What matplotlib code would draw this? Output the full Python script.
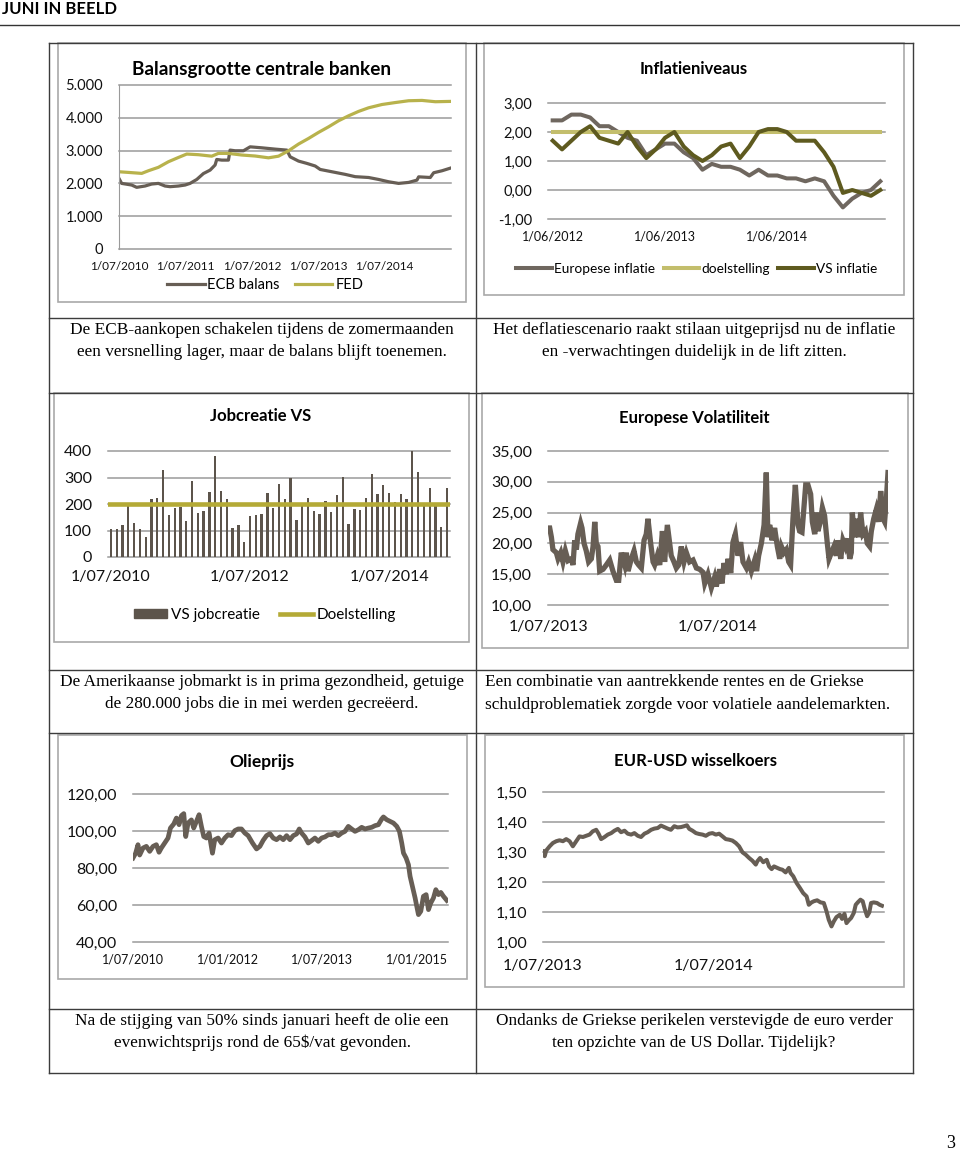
import numpy as np
import matplotlib
matplotlib.use('Agg')
import matplotlib.pyplot as plt
from matplotlib.lines import Line2D
from matplotlib.patches import Rectangle, Patch

plt.rcParams['font.family'] = ['Lato', 'DejaVu Sans']

W, H = 960, 1152
SERIF = ['Liberation Serif', 'DejaVu Serif']

# ---------------- data ----------------
# Balansgrootte centrale banken (miljard), time in decimal years
fed_t = [2010.500, 2010.641, 2010.842, 2010.942, 2011.093, 2011.244, 2011.394, 2011.520,
         2011.696, 2011.897, 2011.997, 2012.148, 2012.349, 2012.550, 2012.751, 2012.902,
         2013.053, 2013.204, 2013.354, 2013.505, 2013.656, 2013.807, 2013.957, 2014.108,
         2014.259, 2014.460, 2014.661, 2014.862, 2015.063, 2015.264, 2015.490]
fed_v = [2355, 2335, 2305, 2385, 2490, 2660, 2790, 2895,
         2875, 2830, 2915, 2915, 2865, 2835, 2780, 2830,
         2995, 3200, 3370, 3555, 3725, 3910, 4060, 4195,
         4305, 4405, 4465, 4520, 4530, 4490, 4500]
ecb_t = [2010.500, 2010.540, 2010.691, 2010.766, 2010.892, 2010.992, 2011.093, 2011.193,
         2011.269, 2011.394, 2011.495, 2011.570, 2011.671, 2011.771, 2011.872, 2011.947,
         2011.972, 2012.048, 2012.148, 2012.173, 2012.249, 2012.374, 2012.475, 2012.651,
         2012.852, 2013.028, 2013.078, 2013.204, 2013.329, 2013.455, 2013.530, 2013.706,
         2013.907, 2014.058, 2014.259, 2014.410, 2014.560, 2014.711, 2014.862, 2014.987,
         2015.013, 2015.188, 2015.239, 2015.364, 2015.490]
ecb_v = [2150, 2000, 1950, 1880, 1920, 1980, 2000, 1920,
         1900, 1920, 1950, 2000, 2120, 2300, 2405, 2560,
         2730, 2710, 2710, 3015, 2995, 2995, 3115, 3085,
         3045, 3015, 2810, 2680, 2610, 2530, 2425, 2355,
         2275, 2205, 2180, 2120, 2050, 2000, 2030, 2100,
         2200, 2180, 2325, 2385, 2465]

# Inflatieniveaus, maandelijks vanaf juni 2012
infl_eu = [2.4, 2.4, 2.6, 2.6, 2.5, 2.2, 2.2, 2.0, 1.8, 1.7, 1.2, 1.4,
           1.6, 1.6, 1.3, 1.1, 0.7, 0.9, 0.8, 0.8, 0.7, 0.5, 0.7, 0.5,
           0.5, 0.4, 0.4, 0.3, 0.4, 0.3, -0.2, -0.6, -0.3, -0.1, 0.0, 0.3]
infl_vs = [1.7, 1.4, 1.7, 2.0, 2.2, 1.8, 1.7, 1.6, 2.0, 1.5, 1.1, 1.4,
           1.8, 2.0, 1.5, 1.2, 1.0, 1.2, 1.5, 1.6, 1.1, 1.5, 2.0, 2.1,
           2.1, 2.0, 1.7, 1.7, 1.7, 1.3, 0.8, -0.1, 0.0, -0.1, -0.2, 0.0]
infl_doel = 2.0
infl_ticks = ['1/06/2012', '1/06/2013', '1/06/2014']

# Jobcreatie VS (duizend), maandelijks vanaf juli 2010
jobs = [104, 107, 122, 196, 130, 107, 76, 217, 224, 330,
        159, 185, 189, 136, 286, 165, 174, 246, 381, 248,
        217, 108, 122, 55, 154, 159, 164, 240, 185, 275,
        219, 299, 140, 194, 224, 172, 161, 213, 169, 235,
        302, 124, 183, 176, 223, 313, 238, 270, 243, 208,
        236, 218, 401, 320, 195, 261, 192, 115, 260]
jobs_doel = 200
jobs_ticks = ['1/07/2010', '1/07/2012', '1/07/2014']

# Europese Volatiliteit
vol_t = [2013.500, 2013.510, 2013.520, 2013.529, 2013.549, 2013.559, 2013.575, 2013.588,
         2013.602, 2013.618, 2013.637, 2013.647, 2013.657, 2013.667, 2013.676, 2013.692,
         2013.700, 2013.712, 2013.725, 2013.739, 2013.755, 2013.765, 2013.775, 2013.784,
         2013.794, 2013.804, 2013.824, 2013.843, 2013.863, 2013.882, 2013.902, 2013.916,
         2013.931, 2013.951, 2013.961, 2013.971, 2013.990, 2014.006, 2014.020, 2014.033,
         2014.049, 2014.065, 2014.078, 2014.088, 2014.104, 2014.118, 2014.127, 2014.143,
         2014.157, 2014.173, 2014.186, 2014.202, 2014.216, 2014.225, 2014.241, 2014.255,
         2014.269, 2014.284, 2014.300, 2014.314, 2014.333, 2014.353, 2014.373, 2014.392,
         2014.412, 2014.422, 2014.441, 2014.461, 2014.480, 2014.490, 2014.510, 2014.524,
         2014.535, 2014.549, 2014.559, 2014.575, 2014.588, 2014.602, 2014.618, 2014.633,
         2014.647, 2014.667, 2014.680, 2014.696, 2014.716, 2014.727, 2014.739, 2014.755,
         2014.771, 2014.784, 2014.794, 2014.804, 2014.818, 2014.833, 2014.849, 2014.863,
         2014.873, 2014.888, 2014.902, 2014.916, 2014.927, 2014.941, 2014.955, 2014.971,
         2014.980, 2014.994, 2015.006, 2015.016, 2015.029, 2015.045, 2015.055, 2015.069,
         2015.078, 2015.088, 2015.102, 2015.114, 2015.127, 2015.143, 2015.153, 2015.167,
         2015.182, 2015.196, 2015.206, 2015.222, 2015.235, 2015.249, 2015.261, 2015.275,
         2015.284, 2015.290, 2015.304, 2015.320, 2015.329, 2015.339, 2015.353, 2015.367,
         2015.378, 2015.392, 2015.402, 2015.416, 2015.431, 2015.445, 2015.457, 2015.471,
         2015.480, 2015.490, 2015.500]
vol_v = [22.5, 22.5, 21.0, 19.0, 18.5, 17.5, 18.5, 17.0,
         18.8, 17.2, 17.5, 16.5, 20.5, 19.0, 21.5, 23.3,
         22.5, 20.0, 18.8, 17.0, 17.5, 19.5, 23.5, 20.0,
         19.5, 15.5, 15.8, 16.5, 17.3, 15.5, 14.0, 14.0,
         18.5, 16.5, 18.5, 15.5, 17.5, 18.8, 17.0, 16.5,
         16.0, 20.5, 21.5, 24.0, 20.0, 17.0, 16.5, 18.0,
         16.5, 22.0, 17.0, 23.0, 20.0, 18.0, 17.0, 16.0,
         16.5, 19.5, 17.0, 18.5, 17.0, 17.3, 16.0, 15.8,
         15.3, 13.5, 15.0, 12.8, 14.5, 13.0, 15.8, 13.5,
         16.8, 15.0, 17.5, 15.2, 20.2, 21.5, 18.0, 20.2,
         17.0, 16.0, 17.0, 15.5, 17.3, 15.5, 18.0, 20.0,
         23.0, 31.5, 21.0, 23.0, 20.5, 22.5, 19.5, 17.5,
         19.5, 18.5, 19.0, 17.0, 16.5, 24.0, 29.5, 23.0,
         22.0, 21.8, 26.0, 29.5, 29.5, 28.0, 23.5, 21.5,
         25.0, 22.0, 23.5, 25.8, 24.5, 20.0, 17.5, 18.5,
         19.5, 18.0, 20.5, 17.5, 20.5, 19.5, 20.8, 17.5,
         18.5, 25.0, 21.0, 24.0, 21.0, 25.0, 21.5, 22.0,
         20.0, 19.5, 22.0, 24.0, 25.5, 23.5, 28.5, 24.0,
         23.5, 27.0, 31.5]

# Olieprijs
oil_t = [2010.500, 2010.542, 2010.579, 2010.606, 2010.659, 2010.712, 2010.765, 2010.818,
         2010.871, 2010.913, 2010.950, 2011.003, 2011.056, 2011.094, 2011.147, 2011.189,
         2011.231, 2011.268, 2011.306, 2011.337, 2011.374, 2011.427, 2011.464, 2011.507,
         2011.549, 2011.586, 2011.623, 2011.666, 2011.708, 2011.761, 2011.798, 2011.851,
         2011.904, 2011.957, 2012.010, 2012.063, 2012.116, 2012.169, 2012.222, 2012.275,
         2012.328, 2012.397, 2012.461, 2012.514, 2012.567, 2012.620, 2012.673, 2012.726,
         2012.779, 2012.832, 2012.885, 2012.938, 2012.991, 2013.044, 2013.097, 2013.139,
         2013.176, 2013.229, 2013.282, 2013.335, 2013.388, 2013.441, 2013.494, 2013.547,
         2013.600, 2013.653, 2013.706, 2013.759, 2013.812, 2013.865, 2013.918, 2013.971,
         2014.024, 2014.077, 2014.130, 2014.183, 2014.236, 2014.289, 2014.342, 2014.395,
         2014.448, 2014.475, 2014.528, 2014.581, 2014.634, 2014.687, 2014.729, 2014.766,
         2014.793, 2014.835, 2014.872, 2014.898, 2014.941, 2014.978, 2015.004, 2015.031,
         2015.068, 2015.110, 2015.153, 2015.190, 2015.227, 2015.269, 2015.307, 2015.349,
         2015.386, 2015.428, 2015.481]
oil_v = [85.4, 88.0, 92.6, 87.0, 90.8, 91.7, 89.0, 91.7,
         92.6, 88.5, 90.8, 93.5, 96.2, 101.6, 103.8, 107.0,
         103.4, 108.3, 109.4, 97.0, 104.3, 106.0, 101.6, 105.2,
         108.8, 102.5, 97.0, 96.2, 98.9, 88.0, 95.3, 96.2,
         93.5, 96.2, 98.0, 97.5, 100.2, 101.1, 101.1, 98.9,
         97.5, 93.5, 90.3, 91.7, 95.0, 97.5, 98.6, 96.2,
         95.3, 96.8, 95.3, 97.5, 95.3, 97.5, 98.4, 101.1,
         98.9, 96.8, 93.5, 94.8, 96.2, 94.4, 96.2, 96.8,
         98.0, 98.0, 98.9, 97.5, 98.9, 99.8, 102.5, 101.1,
         99.8, 100.7, 102.0, 101.1, 101.6, 102.0, 102.9, 103.4,
         106.5, 107.6, 106.1, 105.2, 104.3, 102.5, 99.8, 93.5,
         88.1, 85.4, 81.8, 75.5, 69.2, 63.8, 59.3, 54.8,
         56.6, 64.7, 65.6, 57.5, 61.1, 63.8, 68.3, 65.6,
         66.8, 64.7, 62.5]

# EUR-USD wisselkoers
fx_t = [2013.500, 2013.510, 2013.519, 2013.539, 2013.558, 2013.578, 2013.597, 2013.617,
        2013.636, 2013.656, 2013.675, 2013.695, 2013.714, 2013.734, 2013.753, 2013.773,
        2013.792, 2013.812, 2013.826, 2013.841, 2013.861, 2013.880, 2013.900, 2013.919,
        2013.939, 2013.958, 2013.978, 2013.997, 2014.017, 2014.036, 2014.056, 2014.075,
        2014.095, 2014.114, 2014.134, 2014.153, 2014.173, 2014.192, 2014.212, 2014.231,
        2014.250, 2014.270, 2014.289, 2014.309, 2014.328, 2014.344, 2014.358, 2014.377,
        2014.397, 2014.416, 2014.436, 2014.455, 2014.475, 2014.494, 2014.514, 2014.533,
        2014.553, 2014.572, 2014.592, 2014.611, 2014.631, 2014.650, 2014.670, 2014.689,
        2014.709, 2014.728, 2014.748, 2014.757, 2014.773, 2014.792, 2014.812, 2014.826,
        2014.841, 2014.855, 2014.874, 2014.890, 2014.904, 2014.923, 2014.942, 2014.952,
        2014.968, 2014.987, 2015.007, 2015.026, 2015.046, 2015.059, 2015.075, 2015.089,
        2015.108, 2015.128, 2015.147, 2015.163, 2015.176, 2015.192, 2015.206, 2015.221,
        2015.241, 2015.254, 2015.268, 2015.280, 2015.293, 2015.307, 2015.323, 2015.334,
        2015.346, 2015.362, 2015.375, 2015.387, 2015.401, 2015.414, 2015.424, 2015.440,
        2015.459, 2015.475, 2015.488]
fx_v = [1.302, 1.286, 1.305, 1.319, 1.330, 1.336, 1.339, 1.336,
        1.343, 1.336, 1.319, 1.336, 1.352, 1.350, 1.354, 1.358,
        1.369, 1.374, 1.361, 1.343, 1.350, 1.358, 1.363, 1.371,
        1.377, 1.366, 1.371, 1.361, 1.358, 1.363, 1.354, 1.350,
        1.361, 1.366, 1.374, 1.378, 1.380, 1.388, 1.383, 1.378,
        1.374, 1.386, 1.382, 1.383, 1.386, 1.389, 1.377, 1.371,
        1.363, 1.360, 1.358, 1.354, 1.361, 1.363, 1.358, 1.361,
        1.352, 1.343, 1.341, 1.338, 1.330, 1.319, 1.299, 1.291,
        1.280, 1.271, 1.258, 1.269, 1.280, 1.266, 1.274, 1.252,
        1.243, 1.252, 1.247, 1.243, 1.241, 1.232, 1.247, 1.230,
        1.219, 1.197, 1.180, 1.163, 1.152, 1.124, 1.132, 1.136,
        1.139, 1.132, 1.130, 1.102, 1.074, 1.052, 1.069, 1.083,
        1.091, 1.077, 1.094, 1.063, 1.072, 1.080, 1.097, 1.124,
        1.132, 1.141, 1.136, 1.110, 1.086, 1.099, 1.130, 1.132,
        1.130, 1.124, 1.121]

# ---------------- colours ----------------
GRID = '#9a9a9a'
DARK = '#675e55'
FED_C = '#b8b24c'
DOEL_C = '#c3be6c'
VS_C = '#5e5a1f'
BAR_C = '#5c544b'
JOBDOEL_C = '#b4aa36'
FRAME_C = '#a9a9a9'
TABLE_C = '#3c3c3c'

fig = plt.figure(figsize=(W / 100, H / 100), dpi=100)


def px_box(x0, y0, x1, y1):
    return [x0 / W, 1 - y1 / H, (x1 - x0) / W, (y1 - y0) / H]


def hline(x0, x1, y, color=TABLE_C, lw=1.0):
    fig.add_artist(Line2D([x0 / W, x1 / W], [1 - y / H, 1 - y / H],
                          transform=fig.transFigure, color=color, lw=lw))


def vline(x, y0, y1, color=TABLE_C, lw=1.0):
    fig.add_artist(Line2D([x / W, x / W], [1 - y0 / H, 1 - y1 / H],
                          transform=fig.transFigure, color=color, lw=lw))


def frame(x0, y0, x1, y1):
    fig.add_artist(Rectangle((x0 / W, 1 - y1 / H), (x1 - x0) / W, (y1 - y0) / H,
                             transform=fig.transFigure, fill=False, ec=FRAME_C, lw=1.2))


def ftext(x, y, s, **kw):
    fig.text(x / W, 1 - y / H, s, **kw)


def style(ax, yticks, ylabels, xticks, xlabels, yfs, xfs, xpad):
    for s in ax.spines.values():
        s.set_visible(False)
    ax.patch.set_alpha(0)
    ax.set_ylim(yticks[0], yticks[-1])
    ax.set_yticks(yticks)
    ax.set_yticklabels(ylabels, fontsize=yfs, color='#111111')
    for y in yticks:
        ax.axhline(y, color=GRID, lw=1.1, zorder=0, clip_on=False)
    ax.set_xticks(xticks)
    ax.set_xticklabels(xlabels, fontsize=xfs, color='#111111')
    ax.tick_params(axis='y', length=0, pad=11.5)
    ax.tick_params(axis='x', length=0, pad=xpad)


# ---------------- page ----------------
ftext(2, 9, 'JUNI IN BEELD', fontsize=12, fontweight='bold', va='center', ha='left')
hline(0, 960, 25, color='#333333', lw=1.0)

# table grid
for y in [43, 318, 393, 670, 733, 1009, 1073]:
    hline(49, 913, y)
for x in [49, 476, 913]:
    vline(x, 43, 1073)

# chart frames
frame(58, 43, 466, 302)
frame(484, 43, 904, 295)
frame(54, 393, 469, 642)
frame(482, 393, 908, 648)
frame(58, 735, 467, 979)
frame(485, 735, 904, 987)

# ---------------- chart 1: balans ----------------
ax1 = fig.add_axes(px_box(119, 85, 451, 249))
ax1.plot(ecb_t, ecb_v, color=DARK, lw=2.3, label='ECB balans')
ax1.plot(fed_t, fed_v, color=FED_C, lw=2.3, label='FED')
ax1.set_xlim(2010.5, 2015.5)
style(ax1, [0, 1000, 2000, 3000, 4000, 5000], ['0', '1.000', '2.000', '3.000', '4.000', '5.000'],
      [2010.5, 2011.5, 2012.5, 2013.5, 2014.5],
      ['1/07/2010', '1/07/2011', '1/07/2012', '1/07/2013', '1/07/2014'], 10.5, 8.5, 8.5)
ax1.spines['left'].set_visible(True)
ax1.spines['left'].set_color(GRID)
ax1.legend(loc='center', bbox_to_anchor=(265 / W, 1 - 285 / H), bbox_transform=fig.transFigure,
           ncol=2, frameon=False, fontsize=10.5, handlelength=2.6, handletextpad=0.2,
           columnspacing=1.0, borderpad=0)
ftext(262, 70, 'Balansgrootte centrale banken', fontsize=13.7, fontweight='bold',
      ha='center', va='center')

# ---------------- chart 2: inflatie ----------------
ax2 = fig.add_axes(px_box(548, 103, 885, 219))
months2 = np.arange(len(infl_eu))
ax2.plot(months2, infl_eu, color='#6f675f', lw=2.9, label='Europese inflatie')
ax2.plot([months2[0], months2[-1]], [infl_doel, infl_doel], color=DOEL_C, lw=2.9,
         label='doelstelling')
ax2.plot(months2, infl_vs, color=VS_C, lw=2.9, label='VS inflatie')
ax2.set_xlim(-0.5, 35.5)
style(ax2, [-1, 0, 1, 2, 3], ['-1,00', '0,00', '1,00', '2,00', '3,00'],
      [0, 12, 24], infl_ticks, 10.5, 9, 8)
ax2.legend(loc='center', bbox_to_anchor=(697 / W, 1 - 269 / H), bbox_transform=fig.transFigure,
           ncol=3, frameon=False, fontsize=9.8, handlelength=2.6, handletextpad=0.2,
           columnspacing=0.6, borderpad=0)
ftext(694, 69, 'Inflatieniveaus', fontsize=12, fontweight='bold', ha='center', va='center')

# ---------------- chart 3: jobcreatie ----------------
ax3 = fig.add_axes(px_box(108, 451, 450, 557))
months3 = np.arange(len(jobs))
ax3.bar(months3, jobs, width=0.4, color=BAR_C, zorder=2)
ax3.axhline(jobs_doel, color=JOBDOEL_C, lw=3.3, zorder=3)
ax3.set_xlim(-0.5, 58.5)
style(ax3, [0, 100, 200, 300, 400], ['0', '100', '200', '300', '400'],
      [0, 24, 48], jobs_ticks, 11.5, 11.5, 9)
ax3.legend([Patch(color=BAR_C), Line2D([], [], color=JOBDOEL_C, lw=3.3)],
           ['VS jobcreatie', 'Doelstelling'], loc='center',
           bbox_to_anchor=(265 / W, 1 - 615 / H), bbox_transform=fig.transFigure,
           ncol=2, frameon=False, fontsize=11, handlelength=2.2, handleheight=0.55,
           handletextpad=0.25, columnspacing=1.3, borderpad=0)
ftext(261, 416, 'Jobcreatie VS', fontsize=12, fontweight='bold', ha='center', va='center')

# ---------------- chart 4: volatiliteit ----------------
ax4 = fig.add_axes(px_box(548, 451, 888, 605))
ax4.plot(vol_t, vol_v, color=DARK, lw=3.8, solid_joinstyle='miter')
ax4.set_xlim(2013.5, 2015.5)
style(ax4, [10, 15, 20, 25, 30, 35], ['10,00', '15,00', '20,00', '25,00', '30,00', '35,00'],
      [2013.5, 2014.5], ['1/07/2013', '1/07/2014'], 11.5, 11.5, 11)
ftext(694, 418, 'Europese Volatiliteit', fontsize=12, fontweight='bold', ha='center', va='center')

# ---------------- chart 5: olieprijs ----------------
ax5 = fig.add_axes(px_box(133, 794, 448, 942))
ax5.plot(oil_t, oil_v, color=DARK, lw=3.4)
ax5.set_xlim(2010.5, 2015.5)
style(ax5, [40, 60, 80, 100, 120], ['40,00', '60,00', '80,00', '100,00', '120,00'],
      [2010.5, 2012.0, 2013.5, 2015.0],
      ['1/07/2010', '1/01/2012', '1/07/2013', '1/01/2015'], 11.5, 9, 8.5)
ftext(262, 762, 'Olieprijs', fontsize=12.5, fontweight='bold', ha='center', va='center')

# ---------------- chart 6: EUR-USD ----------------
ax6 = fig.add_axes(px_box(543, 792, 884, 942))
ax6.plot(fx_t, fx_v, color=DARK, lw=2.9)
ax6.set_xlim(2013.5, 2015.5)
style(ax6, [1.0, 1.1, 1.2, 1.3, 1.4, 1.5], ['1,00', '1,10', '1,20', '1,30', '1,40', '1,50'],
      [2013.5, 2014.5], ['1/07/2013', '1/07/2014'], 11.5, 11.5, 12.5)
ftext(695, 761, 'EUR-USD wisselkoers', fontsize=12, fontweight='bold', ha='center', va='center')

# ---------------- captions ----------------
cap = dict(family=SERIF, fontsize=12.4, va='center')
ftext(262, 330, 'De ECB-aankopen schakelen tijdens de zomermaanden', ha='center', **cap)
ftext(262, 352, 'een versnelling lager, maar de balans blijft toenemen.', ha='center', **cap)
ftext(694, 330, 'Het deflatiescenario raakt stilaan uitgeprijsd nu de inflatie', ha='center', **cap)
ftext(694, 352, 'en -verwachtingen duidelijk in de lift zitten.', ha='center', **cap)
ftext(262, 682, 'De Amerikaanse jobmarkt is in prima gezondheid, getuige', ha='center', **cap)
ftext(262, 704, 'de 280.000 jobs die in mei werden gecreëerd.', ha='center', **cap)
ftext(485, 682, 'Een combinatie van aantrekkende rentes en de Griekse', ha='left', **cap)
ftext(485, 705, 'schuldproblematiek zorgde voor volatiele aandelemarkten.', ha='left', **cap)
ftext(262, 1021, 'Na de stijging van 50% sinds januari heeft de olie een', ha='center', **cap)
ftext(262, 1043, 'evenwichtsprijs rond de 65$/vat gevonden.', ha='center', **cap)
ftext(694, 1021, 'Ondanks de Griekse perikelen verstevigde de euro verder', ha='center', **cap)
ftext(694, 1043, 'ten opzichte van de US Dollar. Tijdelijk?', ha='center', **cap)

ftext(951, 1143, '3', family=SERIF, fontsize=13, ha='center', va='center')

fig.savefig('out.png', dpi=100)
